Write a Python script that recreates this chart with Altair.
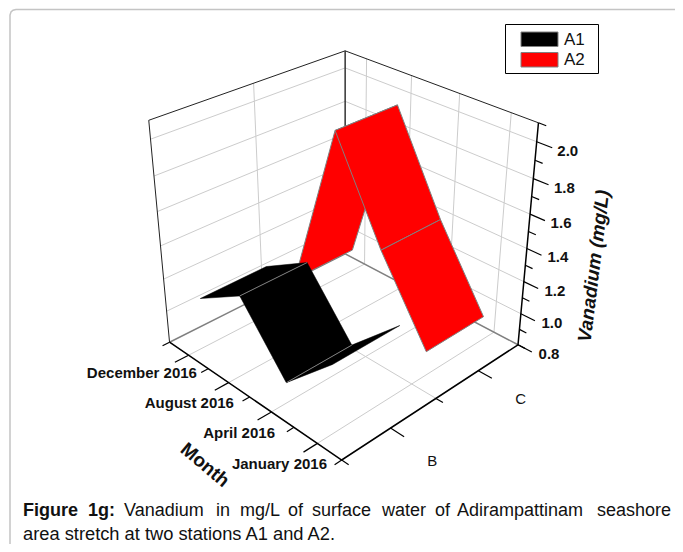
import numpy as np
import pandas as pd
import altair as alt

months = ["January 2016", "April 2016", "August 2016", "December 2016"]
stations = ["B", "C"]
series = ["A1", "A2"]
a1_values = [1.21, 0.925, 1.28, 1.11]
a2_values = [0.95, 1.41, 1.965, 0.94]
z_major = [0.8, 1.0, 1.2, 1.4, 1.6, 1.8, 2.0]
z_minor = [0.9, 1.1, 1.3, 1.5, 1.7, 1.9, 2.1]
z_labels = ["0.8", "1.0", "1.2", "1.4", "1.6", "1.8", "2.0"]
caption_bold = ["Figure", "1g:"]
caption_words = ["Vanadium", "in", "mg/L", "of", "surface", "water", "of", "Adirampattinam", "seashore"]
caption_line2 = "area stretch at two stations A1 and A2."

# ---- layout (page pixels) ----
W, H = 667, 536
CAMERA = np.array([[-146.6816487, 253.4258074, -41.9821559, 341.7092738],
                   [-66.2920074, -63.8805024, -269.9578656, 459.9956047],
                   [0.1503776, 0.1488861, -0.1215954, 1.0]])
Z0, Z1 = 0.8, 2.1
RIBBON_HALF = 0.172
bold_x = [23, 88]
word_x = [124, 216, 240, 288, 312, 382, 435, 457, 597]
month_shift = [(9.6, 21), (3.6, 21), (5.4, 20), (8.4, 18)]
station_shift = [(41.8, 32.7), (42.3, 28)]


def proj(u, v, z):
    w = (z - Z0) / (Z1 - Z0)
    h = CAMERA @ np.array([u, v, w, 1.0])
    return [float(h[0] / h[2]), float(h[1] / h[2])]


def u_of(i):
    return (i + 0.5) / len(months)


def v_of(i):
    return (i + 0.5) / len(stations)


def line_f(*pts):
    return {"type": "Feature", "properties": {},
            "geometry": {"type": "LineString", "coordinates": [list(p) for p in pts]}}


def poly_f(*pts):
    ring = [list(p) for p in pts] + [list(pts[0])]
    return {"type": "Feature", "properties": {},
            "geometry": {"type": "Polygon", "coordinates": [ring]}}


def geo(features, **mark):
    return alt.Chart(alt.Data(values=features)).mark_geoshape(**mark).project(
        type="identity", scale=1, translate=[-8, -8])


def lines(features, color, width):
    return geo(features, filled=False, stroke=color, strokeWidth=width)


X = alt.Scale(domain=[8, 8 + W], range=[0, W], nice=False, zero=False)
Y = alt.Scale(domain=[8, 8 + H], range=[0, H], nice=False, zero=False)


def text(rows, **mark):
    df = pd.DataFrame(rows, columns=["x", "y", "t"])
    return alt.Chart(df).mark_text(font="Liberation Sans", color="#111111", **mark).encode(
        x=alt.X("x:Q", scale=X, axis=None),
        y=alt.Y("y:Q", scale=Y, axis=None),
        text="t:N")


layers = []

# page frame: only top and left edges show
layers.append(lines([line_f((675, 9.6), (16, 9.6), (13, 10.3), (11, 12), (10, 15), (10, 544))], "#c4c4c4", 1.5))

# grids
grid = []
for z in z_major[1:]:
    grid.append(line_f(proj(1, 0, z), proj(1, 1, z)))
    grid.append(line_f(proj(1, 1, z), proj(0, 1, z)))
for i in range(len(months)):
    grid.append(line_f(proj(u_of(i), 0, Z0), proj(u_of(i), 1, Z0)))
    grid.append(line_f(proj(u_of(i), 1, Z0), proj(u_of(i), 1, Z1)))
grid.append(line_f(proj(0, 0.5, Z0), proj(1, 0.5, Z0)))
grid.append(line_f(proj(1, 0.5, Z0), proj(1, 0.5, Z1)))
layers.append(lines(grid, "#cccccc", 1))

# floor back edges, box
layers.append(lines([line_f(proj(1, 0, Z0), proj(1, 1, Z0), proj(0, 1, Z0))], "#808080", 1.5))
layers.append(lines([line_f(proj(1, 0, Z0), proj(1, 0, Z1), proj(1, 1, Z1), proj(0, 1, Z1))], "#222222", 1))
layers.append(lines([line_f(proj(1, 1, Z0), proj(1, 1, Z1))], "#333333", 1.5))

# ribbons, drawn back to front
def ribbon(values, station):
    c = v_of(station)
    v0, v1 = c - RIBBON_HALF, c + RIBBON_HALF
    polys, folds = [], []
    for i in range(len(months) - 1, 0, -1):
        a, b = u_of(i), u_of(i - 1)
        polys.append(poly_f(proj(a, v0, values[i]), proj(a, v1, values[i]),
                            proj(b, v1, values[i - 1]), proj(b, v0, values[i - 1])))
        if i < len(months) - 1:
            folds.append(line_f(proj(a, v0, values[i]), proj(a, v1, values[i])))
    return polys, folds


red_p, red_f = ribbon(a2_values, 1)
blk_p, blk_f = ribbon(a1_values, 0)
for p in red_p:
    layers.append(geo([p], fill="#ff0000", stroke="#808080", strokeWidth=1))
for p in blk_p:
    layers.append(geo([p], fill="#000000", stroke="#000000", strokeWidth=0.5))
layers.append(lines(blk_f, "#808080", 1))

# axes
layers.append(lines([line_f(proj(1, 0, Z0), proj(0, 0, Z0), proj(0, 1, Z0), proj(0, 1, Z1))], "#000000", 1.5))
ticks = []
for i in range(len(months)):
    ticks.append(line_f(proj(u_of(i), 0, Z0), proj(u_of(i), -0.068, Z0)))
for k in range(len(months) + 1):
    u = k / len(months)
    ticks.append(line_f(proj(u, 0, Z0), proj(u, -0.035, Z0)))
for i in range(len(stations)):
    ticks.append(line_f(proj(0, v_of(i), Z0), proj(-0.068, v_of(i), Z0)))
for v in [0, 0.5, 1]:
    ticks.append(line_f(proj(0, v, Z0), proj(-0.035, v, Z0)))
for z in z_major:
    ticks.append(line_f(proj(0, 1, z), proj(-0.07, 1, z)))
for z in z_minor:
    ticks.append(line_f(proj(0, 1, z), proj(-0.035, 1, z)))
layers.append(lines(ticks, "#000000", 1.2))

# tick labels
rows = []
for i, m in enumerate(months):
    px = proj(u_of(i), 0, Z0)
    rows.append((px[0] + month_shift[i][0], px[1] + month_shift[i][1], m))
layers.append(text(rows, fontSize=15, fontWeight="bold", align="right", baseline="middle"))
rows = []
for i, s in enumerate(stations):
    px = proj(0, v_of(i), Z0)
    rows.append((px[0] + station_shift[i][0], px[1] + station_shift[i][1], s))
layers.append(text(rows, fontSize=15, align="center", baseline="middle"))
rows = []
for z, lab in zip(z_major, z_labels):
    px = proj(0, 1, z)
    rows.append((px[0] + 31, px[1] + 9, lab))
layers.append(text(rows, fontSize=15, fontWeight="bold", align="center", baseline="middle"))

# axis titles
layers.append(text([(205, 465, "Month")], fontSize=19, fontWeight="bold", align="center", baseline="middle", angle=40))
layers.append(text([(594, 266, "Vanadium (mg/L)")], fontSize=19, fontWeight="bold", fontStyle="italic",
                   align="center", baseline="middle", angle=277))

# legend
box = pd.DataFrame({"x": [505.5], "x2": [598.5], "y": [24.5], "y2": [73.5]})
layers.append(alt.Chart(box).mark_rect(fill="white", stroke="#000000", strokeWidth=1).encode(
    x=alt.X("x:Q", scale=X, axis=None), x2="x2:Q", y=alt.Y("y:Q", scale=Y, axis=None), y2="y2:Q"))
swatch = pd.DataFrame({"x": [521, 521], "x2": [558, 558], "y": [32, 52.5], "y2": [46.5, 67], "s": series})
layers.append(alt.Chart(swatch).mark_rect(stroke="#808080", strokeWidth=1).encode(
    x=alt.X("x:Q", scale=X, axis=None), x2="x2:Q", y=alt.Y("y:Q", scale=Y, axis=None), y2="y2:Q",
    fill=alt.Fill("s:N", scale=alt.Scale(domain=series, range=["#000000", "#ff0000"]), legend=None)))
layers.append(text([(564, 39.5, series[0]), (564, 60, series[1])], fontSize=17, align="left", baseline="middle"))

# caption
layers.append(text(list(zip(bold_x, [511] * 2, caption_bold)), fontSize=18, fontWeight="bold", align="left", baseline="middle"))
layers.append(text(list(zip(word_x, [511] * len(word_x), caption_words)), fontSize=18, align="left", baseline="middle"))
layers.append(text([(23, 534.5, caption_line2)], fontSize=18.3, align="left", baseline="middle"))

chart = alt.layer(*layers).properties(
    width=W, height=H, padding=0, background="white",
    autosize=alt.AutoSizeParams(type="none")
).resolve_scale(fill="independent").configure_view(stroke=None)

chart.save("out.html", embed_options={"renderer": "svg", "actions": False})
